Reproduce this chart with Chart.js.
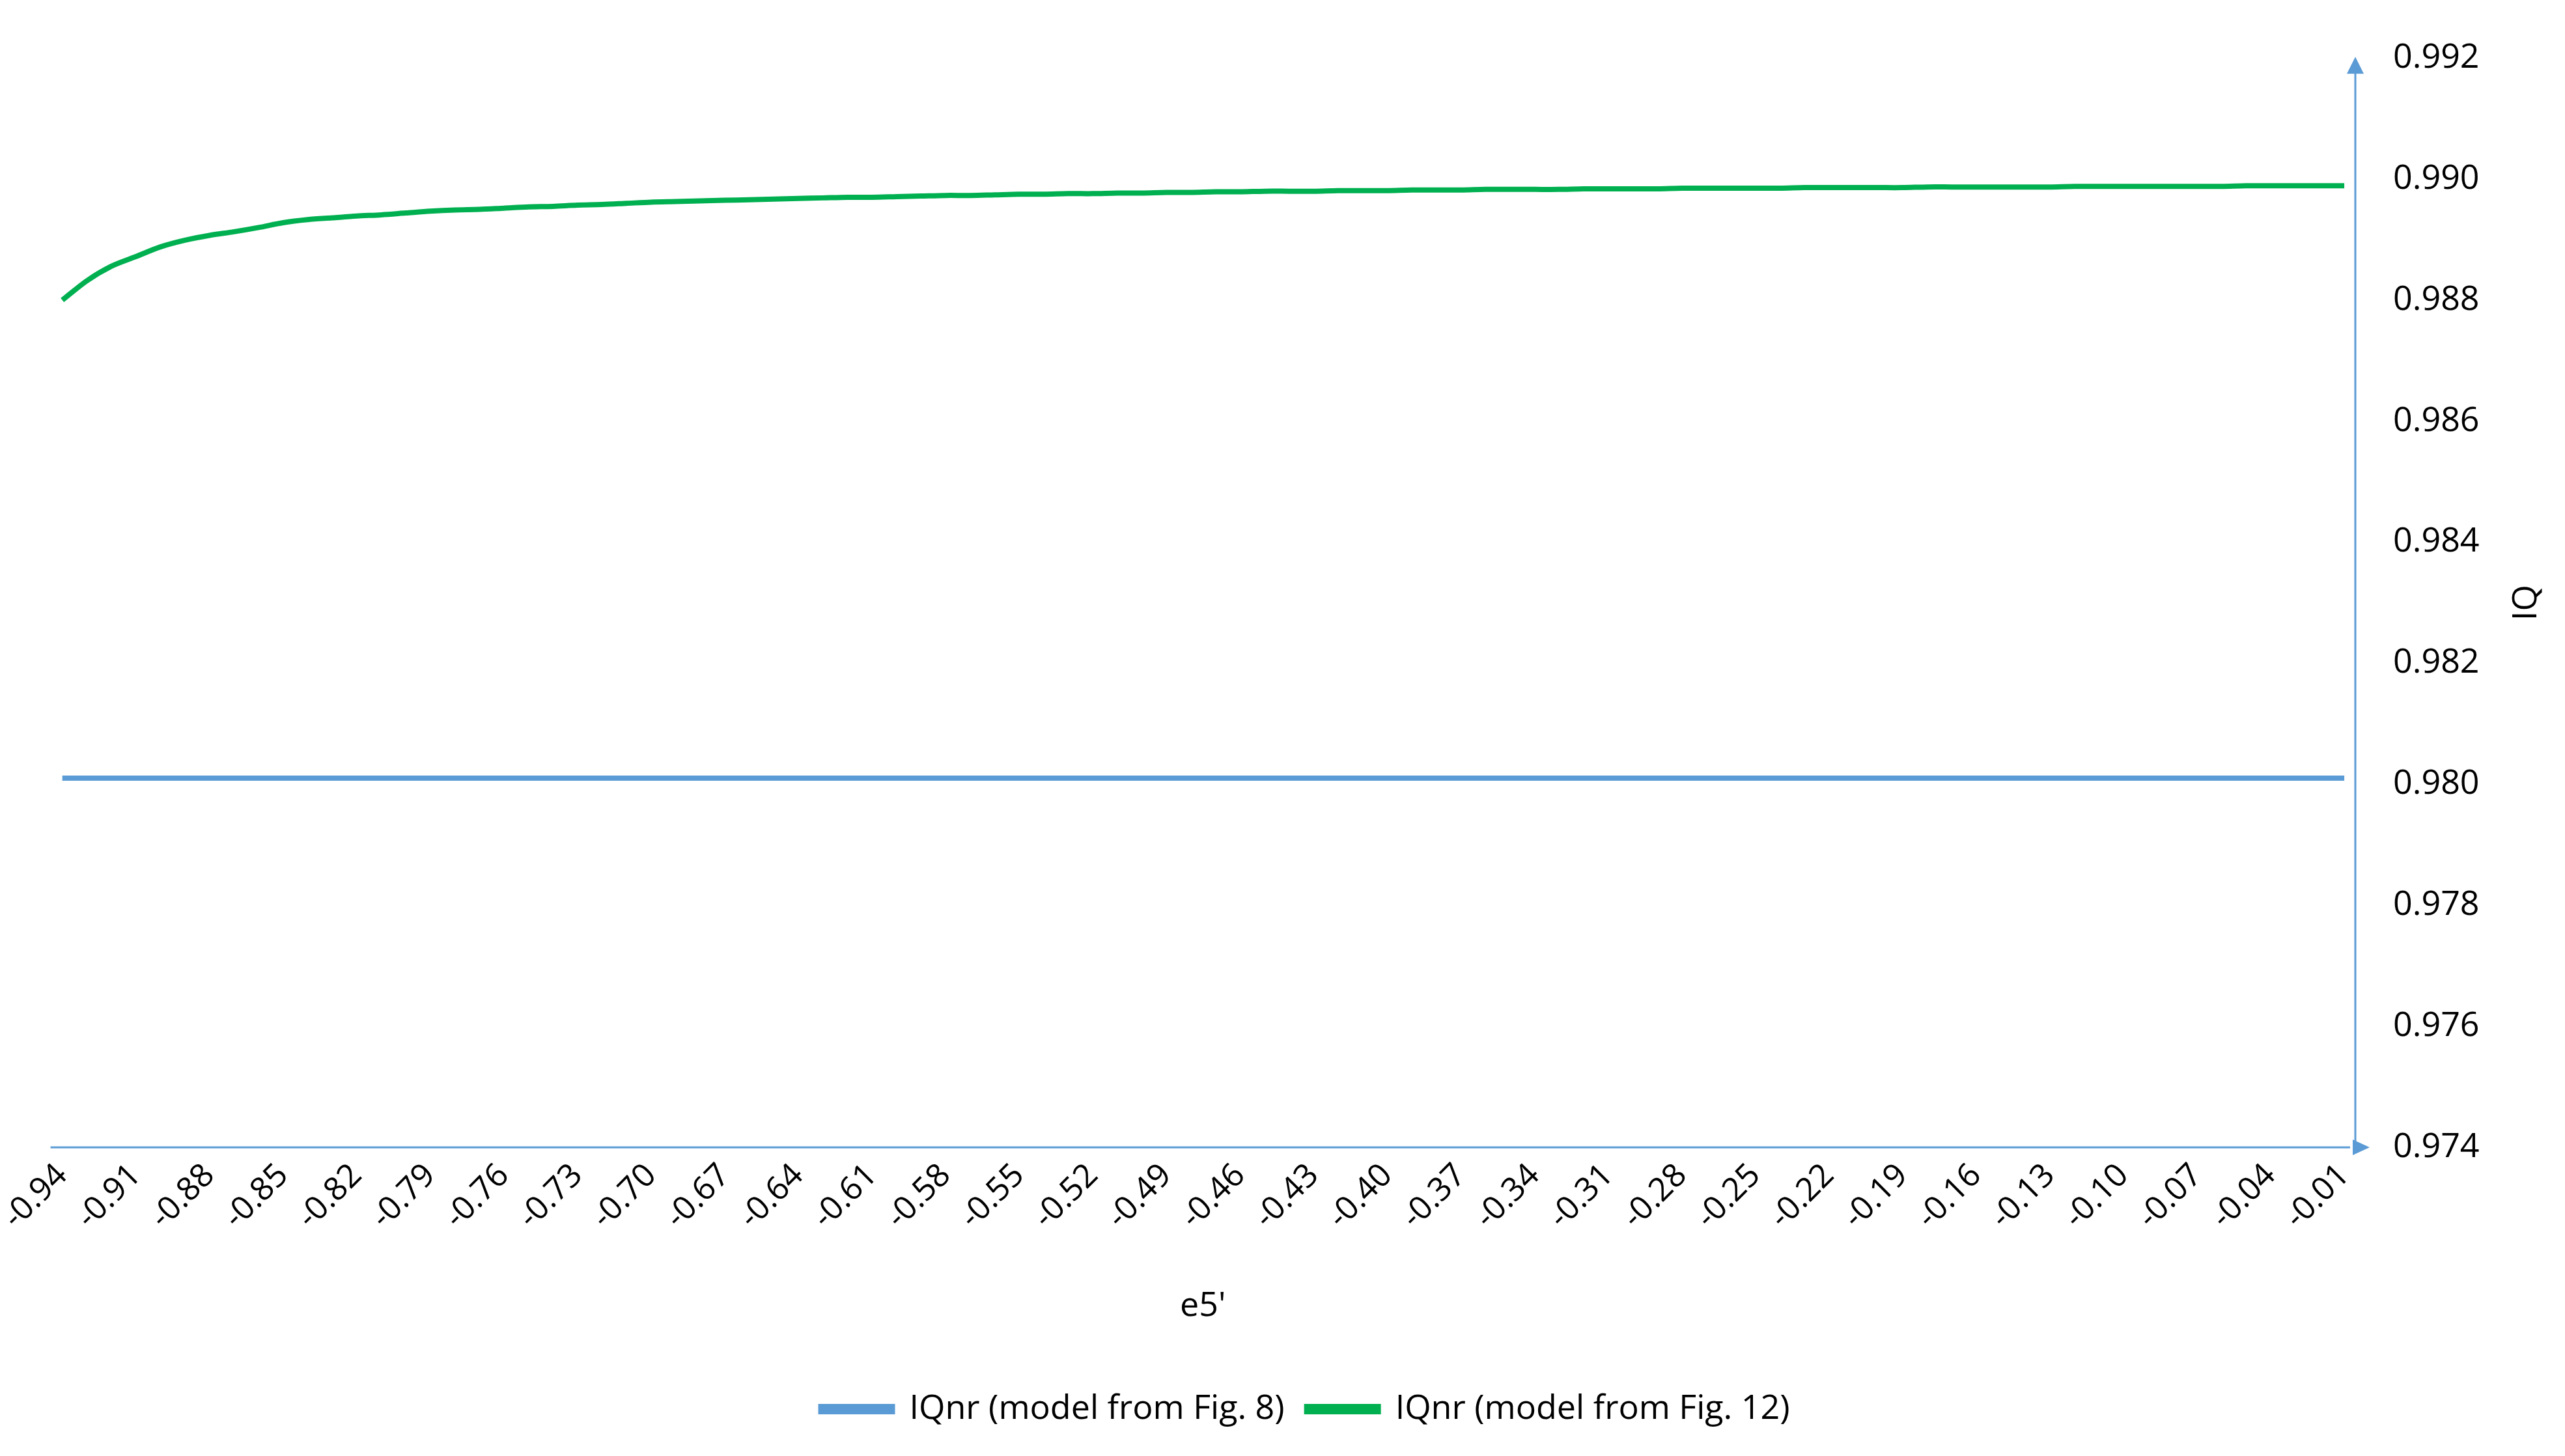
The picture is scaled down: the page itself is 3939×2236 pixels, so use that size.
<!DOCTYPE html>
<html><head><meta charset="utf-8">
<script src="https://cdn.jsdelivr.net/npm/chart.js@4"></script>
<style>html,body{margin:0;padding:0;background:#fff}#w{width:3939px;height:2236px}</style>
</head><body><div id="w"><canvas id="c"></canvas></div>
<script>
const categories = [-0.94,-0.93,-0.92,-0.91,-0.90,-0.89,-0.88,-0.87,-0.86,-0.85,-0.84,-0.83,-0.82,-0.81,-0.80,-0.79,-0.78,-0.77,-0.76,-0.75,-0.74,-0.73,-0.72,-0.71,-0.70,-0.69,-0.68,-0.67,-0.66,-0.65,-0.64,-0.63,-0.62,-0.61,-0.60,-0.59,-0.58,-0.57,-0.56,-0.55,-0.54,-0.53,-0.52,-0.51,-0.50,-0.49,-0.48,-0.47,-0.46,-0.45,-0.44,-0.43,-0.42,-0.41,-0.40,-0.39,-0.38,-0.37,-0.36,-0.35,-0.34,-0.33,-0.32,-0.31,-0.30,-0.29,-0.28,-0.27,-0.26,-0.25,-0.24,-0.23,-0.22,-0.21,-0.20,-0.19,-0.18,-0.17,-0.16,-0.15,-0.14,-0.13,-0.12,-0.11,-0.10,-0.09,-0.08,-0.07,-0.06,-0.05,-0.04,-0.03,-0.02,-0.01];
const seriesFig8 = categories.map(()=>0.98010);
const seriesFig12 = [0.98800,0.98832,0.98856,0.98872,0.98888,0.98899,0.98907,0.98913,0.98920,0.98928,0.98933,0.98936,0.98939,0.98941,0.98944,0.98947,0.98949,0.98950,0.98952,0.98954,0.98955,0.98957,0.98958,0.98960,0.98962,0.98963,0.98964,0.98965,0.98966,0.98967,0.98968,0.98969,0.98970,0.98970,0.98971,0.98972,0.98973,0.98973,0.98974,0.98975,0.98975,0.98976,0.98976,0.98977,0.98977,0.98978,0.98978,0.98979,0.98979,0.98980,0.98980,0.98980,0.98981,0.98981,0.98981,0.98982,0.98982,0.98982,0.98983,0.98983,0.98983,0.98983,0.98984,0.98984,0.98984,0.98984,0.98985,0.98985,0.98985,0.98985,0.98985,0.98986,0.98986,0.98986,0.98986,0.98986,0.98987,0.98987,0.98987,0.98987,0.98987,0.98987,0.98988,0.98988,0.98988,0.98988,0.98988,0.98988,0.98988,0.98989,0.98989,0.98989,0.98989,0.98989];
const xTickLabels = [-0.94,-0.91,-0.88,-0.85,-0.82,-0.79,-0.76,-0.73,-0.70,-0.67,-0.64,-0.61,-0.58,-0.55,-0.52,-0.49,-0.46,-0.43,-0.40,-0.37,-0.34,-0.31,-0.28,-0.25,-0.22,-0.19,-0.16,-0.13,-0.10,-0.07,-0.04,-0.01];
const seriesNames = ['IQnr (model from Fig. 8)','IQnr (model from Fig. 12)'];
const yTitle = 'IQ';
const F = "'Open Sans', 'Liberation Sans', sans-serif";
const AX = '#5B9BD5';
const axes = {id:'axes', afterDraw(ch){
  const c=ch.ctx, a=ch.chartArea, y0=ch.scales.y.getPixelForValue(0.974), yt=ch.scales.y.getPixelForValue(0.992);
  c.save(); c.strokeStyle=AX; c.fillStyle=AX; c.lineWidth=3;
  c.beginPath(); c.moveTo(a.left,y0); c.lineTo(a.right-8,y0); c.moveTo(a.right,y0); c.lineTo(a.right,yt+20); c.stroke();
  c.beginPath(); c.moveTo(a.right-4,y0-12); c.lineTo(a.right-4,y0+12); c.lineTo(a.right+22,y0); c.closePath(); c.fill();
  c.beginPath(); c.moveTo(a.right-13,yt+24); c.lineTo(a.right+13,yt+24); c.lineTo(a.right,yt-2); c.closePath(); c.fill();
  c.translate(3880,(a.top+a.bottom)/2); c.rotate(-Math.PI/2);
  c.fillStyle='#000'; c.font="52px "+F; c.textAlign='center'; c.textBaseline='middle'; c.fillText(yTitle,0,0);
  c.restore();
}};
new Chart(document.getElementById('c'), {
  type:'line',
  data:{datasets:[
    {label:seriesNames[0], data:categories.map((x,i)=>({x, y:seriesFig8[i]})), borderColor:AX, backgroundColor:AX, borderWidth:8, pointRadius:0, tension:0},
    {label:seriesNames[1], data:categories.map((x,i)=>({x, y:seriesFig12[i]})), borderColor:'#00B050', backgroundColor:'#00B050', borderWidth:8, pointRadius:0, tension:0.3}
  ]},
  options:{responsive:true, maintainAspectRatio:false, animation:false,
    layout:{padding:{left:70,right:0,top:0,bottom:36}},
    plugins:{legend:{position:'bottom', labels:{font:{family:F,size:52}, color:'#000', boxWidth:110, boxHeight:8, padding:34}}, tooltip:{enabled:false}},
    scales:{
      x:{type:'linear', min:-0.9448, max:-0.0055,
        afterBuildTicks:s=>{s.ticks=xTickLabels.map(v=>({value:v}));},
        afterFit:s=>{s.height=342;},
        grid:{display:false, drawTicks:false}, border:{display:false},
        ticks:{autoSkip:false, maxRotation:45, minRotation:45, padding:14, color:'#000', font:{family:F,size:50}, callback:v=>v.toFixed(2)},
        title:{display:true, text:"e5'", color:'#000', font:{family:F,size:52}, padding:{top:0,bottom:67}}},
      y:{position:'right', min:0.974, max:0.992,
        afterFit:s=>{s.width=322;},
        grid:{display:false, drawTicks:false}, border:{display:false},
        ticks:{stepSize:0.002, padding:58, color:'#000', font:{family:F,size:52}, callback:v=>v.toFixed(3)},
        title:{display:false}}
    }},
  plugins:[axes]
});
</script></body></html>
